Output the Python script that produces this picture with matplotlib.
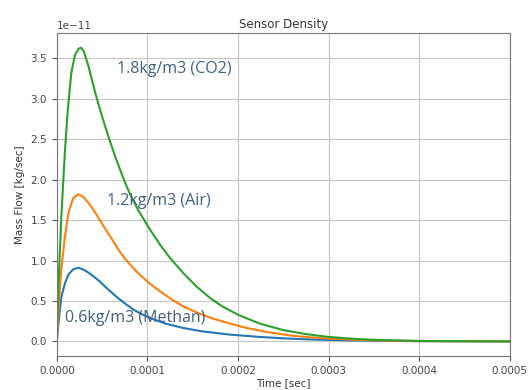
import numpy as np
import matplotlib
matplotlib.use("Agg")
import matplotlib.pyplot as plt

# time in units of 1e-5 s, mass flow in units of 1e-11 kg/s
t_co2 = [0, 0.1, 0.25, 0.5, 0.9, 1.2, 1.6, 2.0, 2.4, 2.7, 3.0, 3.5, 4.3, 5.0, 5.85, 6.5,
         7.3, 8.0, 9.0, 10.3, 11.5, 12.5, 14.0, 15.4, 17.0, 18.3, 20.0, 22.4, 25.0,
         27.5, 30.0, 33.0, 36.0, 40.0, 45.0, 50.0]
co2 = [0, 0.38, 0.87, 1.55, 2.36, 2.85, 3.32, 3.54, 3.62, 3.63, 3.58, 3.4, 3.05, 2.78,
       2.48, 2.27, 2.03, 1.84, 1.62, 1.38, 1.18, 1.03, 0.84, 0.68, 0.53, 0.43, 0.33,
       0.22, 0.14, 0.09, 0.055, 0.03, 0.015, 0.006, 0.002, 0.0]

t_air = [0, 0.1, 0.25, 0.5, 0.9, 1.3, 1.8, 2.35, 2.9, 3.5, 4.2, 4.75, 5.3, 6.0, 7.0, 8.0,
         9.0, 10.3, 11.5, 12.8, 14.0, 15.5, 17.0, 19.1, 21.0, 23.5, 26.0, 28.0, 30.0,
         33.0, 36.0, 40.0, 50.0]
air = [0, 0.2, 0.5, 0.9, 1.3, 1.6, 1.77, 1.82, 1.79, 1.71, 1.6, 1.5, 1.4, 1.28, 1.1,
       0.96, 0.84, 0.71, 0.61, 0.51, 0.43, 0.355, 0.29, 0.22, 0.165, 0.11, 0.07, 0.05,
       0.035, 0.02, 0.01, 0.004, 0.0]

t_methan = [0, 0.1, 0.25, 0.5, 0.9, 1.3, 1.8, 2.35, 2.9, 3.5, 4.2, 4.75, 5.5, 6.6, 7.5,
            8.5, 9.5, 10.5, 12.0, 14.0, 16.0, 19.0, 22.4, 25.0, 28.0, 32.0, 36.0, 40.0,
            50.0]
methan = [0, 0.12, 0.3, 0.55, 0.72, 0.83, 0.89, 0.91, 0.89, 0.85, 0.79, 0.74, 0.66, 0.55,
          0.47, 0.39, 0.33, 0.28, 0.22, 0.165, 0.125, 0.085, 0.055, 0.038, 0.024, 0.013,
          0.007, 0.003, 0.0]

labels = ["0.6kg/m3 (Methan)", "1.2kg/m3 (Air)", "1.8kg/m3 (CO2)"]
label_pos = [(0.9, 0.29), (5.5, 1.74), (6.6, 3.37)]

fig = plt.figure(figsize=(5.31, 3.90), dpi=100)
ax = fig.add_axes([0.107, 0.087, 0.853, 0.828])

for t, m in [(t_methan, methan), (t_air, air), (t_co2, co2)]:
    ax.plot(np.array(t) * 1e-5, np.array(m) * 1e-11, lw=1.5)

for txt, (x, y) in zip(labels, label_pos):
    ax.text(x * 1e-5, y * 1e-11, txt, fontsize=11.5, color="#40607f",
            family=["Open Sans", "DejaVu Sans"], va="center", ha="left")

ax.set_xlim(0, 0.0005)
ax.grid(True, color="#c8c8c8", lw=0.9)
ax.set_title("Sensor Density", fontsize=8.5, pad=4, color="#333333")
ax.set_xlabel("Time [sec]", fontsize=7.5, labelpad=2, color="#333333")
ax.set_ylabel("Mass Flow [kg/sec]", fontsize=7.5, labelpad=4, color="#333333")
ax.tick_params(labelsize=7.5, colors="#555555", labelcolor="#444444")
ax.yaxis.get_offset_text().set_fontsize(7.5)
ax.yaxis.get_offset_text().set_color("#444444")
for s in ax.spines.values():
    s.set_color("#777777")

fig.savefig("out.png", dpi=100)
